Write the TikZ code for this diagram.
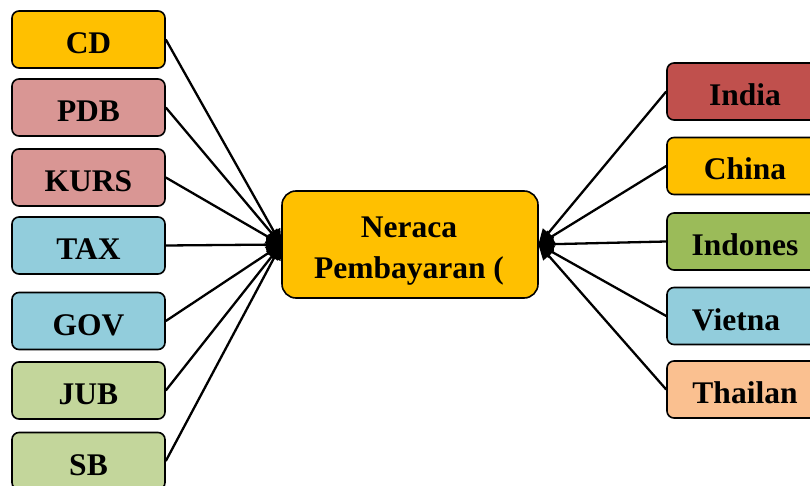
\documentclass[tikz,border=0pt]{standalone}
\usepackage{fontspec}
\setmainfont{Liberation Serif}
\usetikzlibrary{arrows.meta}
\definecolor{cyel}{HTML}{FFC000}
\definecolor{cpink}{HTML}{D99694}
\definecolor{cblue}{HTML}{92CDDC}
\definecolor{cgreen}{HTML}{C3D69B}
\definecolor{cred}{HTML}{C0504D}
\definecolor{cgreen2}{HTML}{9BBB59}
\definecolor{corange}{HTML}{FAC090}
\tikzset{
  box/.style={draw=black, line width=1.6pt, rounded corners=7pt, minimum width=153pt, minimum height=57pt, inner sep=0pt, text height=28pt, text depth=0pt, font=\fontsize{31.5}{36}\selectfont\bfseries},
  rbox/.style={box, minimum width=156pt},
  mainbox/.style={draw=black, line width=1.6pt, rounded corners=14pt, minimum width=256pt, minimum height=107pt, inner sep=0pt, fill=cyel},
  maintext/.style={inner sep=0pt, align=center, font=\fontsize{31.5}{41.6}\selectfont\bfseries},
  conn/.style={line width=2.3pt, -{Triangle[length=16pt,width=14pt]}, shorten >=-1pt}
}
\begin{document}
\begin{tikzpicture}[x=1pt,y=-1pt]
\useasboundingbox (0,0) rectangle (810,486);
\clip (0,0) rectangle (810,486);
\node[mainbox] (m) at (410,244.5) {};
\node[maintext] (mt) at (409,251) {Neraca\\Pembayaran (};
\node[box, fill=cyel] (cd) at (88.5,39.5) {CD};
\node[box, fill=cpink] (pdb) at (88.5,107.5) {PDB};
\node[box, fill=cpink] (kurs) at (88.5,177.5) {KURS};
\node[box, fill=cblue] (tax) at (88.5,245.5) {TAX};
\node[box, fill=cblue] (gov) at (88.5,321) {GOV};
\node[box, fill=cgreen] (jub) at (88.5,390.5) {JUB};
\node[box, fill=cgreen] (sb) at (88.5,461) {SB};
\node[rbox, fill=cred] (ind) at (745,91.5) {India};
\node[rbox, fill=cyel] (chn) at (745,166) {China};
\node[rbox, fill=cgreen2] (idn) at (745,241.5) {Indones};
\node[rbox, fill=cblue] (vnm) at (745,316) {Vietna\hspace*{18pt}};
\node[rbox, fill=corange] (tha) at (745,389.5) {Thailan};
\foreach \n in {cd,pdb,kurs,tax,gov,jub,sb} \draw[conn] (\n.east) -- (m.west);
\foreach \n in {ind,chn,idn,vnm,tha} \draw[conn] (\n.west) -- (m.east);
\end{tikzpicture}
\end{document}
